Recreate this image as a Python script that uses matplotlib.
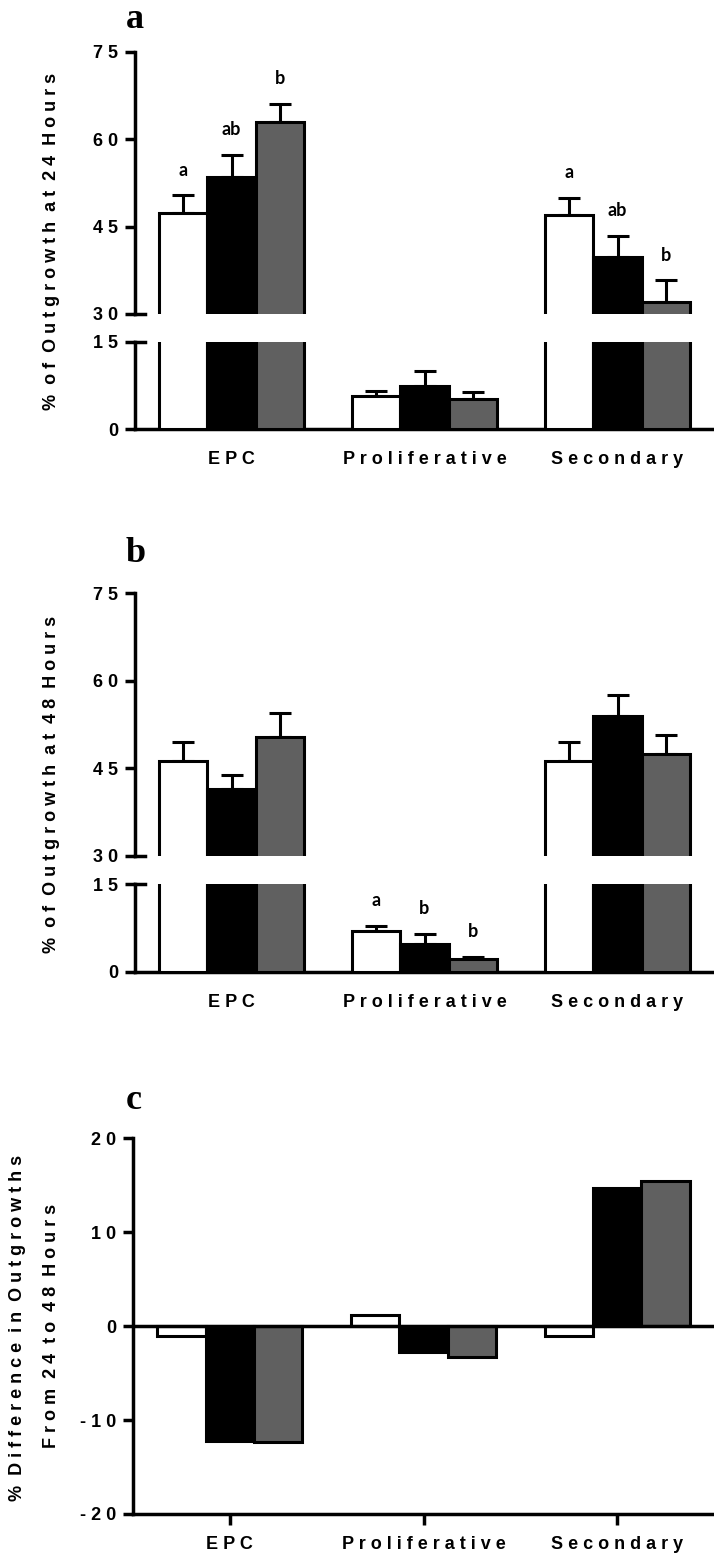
import numpy as np
import matplotlib
matplotlib.use('Agg')
import matplotlib.pyplot as plt

# outgrowth data (mean and SEM) per cell type, three treatments each
cell_types = ['EPC', 'Proliferative', 'Secondary']

mean_24h = {'white': [47.4, 5.7, 47.0],
            'black': [53.6, 7.4, 39.8],
            'gray':  [62.9, 5.2, 32.1]}
sem_24h = {'white': [3.0, 0.8, 3.0],
           'black': [3.7, 2.6, 3.6],
           'gray':  [3.2, 1.2, 3.7]}
letters_24h = {'white': ['a', '', 'a'],
               'black': ['ab', '', 'ab'],
               'gray':  ['b', '', 'b']}

mean_48h = {'white': [46.2, 7.0, 46.2],
            'black': [41.4, 4.8, 54.0],
            'gray':  [50.4, 2.1, 47.4]}
sem_48h = {'white': [3.3, 0.9, 3.3],
           'black': [2.5, 1.7, 3.6],
           'gray':  [4.1, 0.5, 3.3]}
letters_48h = {'white': ['', 'a', ''],
               'black': ['', 'b', ''],
               'gray':  ['', 'b', '']}

diff = {'white': [-1.1, 1.2, -1.0],
        'black': [-12.2, -2.8, 14.7],
        'gray':  [-12.3, -3.3, 15.5]}

bar_colors = {'white': 'white', 'black': 'black', 'gray': '#606060'}
offsets = {'white': -0.25, 'black': 0.0, 'gray': 0.25}
width = 0.25

sans = ['Liberation Sans', 'DejaVu Sans']
plt.rcParams['font.family'] = sans
plt.rcParams['font.weight'] = 'bold'
plt.rcParams['font.size'] = 13


def spaced(s):
    # wide letter spacing like the original figure
    return '  '.join(' '.join(w) for w in s.split())


x = np.arange(len(cell_types))
W, H = 714, 1561


def style_axis(ax):
    for sp in ['top', 'right']:
        ax.spines[sp].set_visible(False)
    for sp in ['left', 'bottom']:
        ax.spines[sp].set_linewidth(2.5)
    ax.tick_params(axis='y', length=7, width=2.5, pad=5, labelsize=13)
    ax.set_xlim(-0.5, 2.5)


def draw_bars(ax, means, sems=None):
    for key in ['white', 'black', 'gray']:
        xs = x + offsets[key]
        ax.bar(xs, means[key], width=width, color=bar_colors[key],
               edgecolor='black', linewidth=2.2, zorder=3)
        if sems is not None:
            ax.errorbar(xs, means[key], yerr=[np.zeros(3), sems[key]], fmt='none',
                        ecolor='black', elinewidth=2.2, capsize=8, capthick=2.2, zorder=2)


def draw_letters(ax, means, sems, letters):
    lo, hi = ax.get_ylim()
    for key in ['white', 'black', 'gray']:
        xs = x + offsets[key]
        for xi, m, e, t in zip(xs, means[key], sems[key], letters[key]):
            if t and lo <= m + e <= hi:
                ax.annotate(t, (xi, m + e), xytext=(0, 12), textcoords='offset points',
                            ha='center', va='bottom', fontsize=13, fontweight='bold',
                            family=['Lato', 'DejaVu Sans'], annotation_clip=False)


def broken_panel(rect_top, rect_bot, means, sems, letters):
    top = fig.add_axes(rect_top)
    bot = fig.add_axes(rect_bot)
    for ax in (top, bot):
        style_axis(ax)
        draw_bars(ax, means, sems)
    top.set_ylim(30, 75)
    top.set_yticks([30, 45, 60, 75])
    top.spines['bottom'].set_visible(False)
    top.set_xticks([])
    bot.set_ylim(0, 15)
    bot.set_yticks([0, 15])
    bot.set_xticks(x)
    bot.set_xticklabels([spaced(c) for c in cell_types])
    bot.tick_params(axis='x', length=0, pad=16, labelsize=13)
    for ax in (top, bot):
        ax.set_yticklabels([spaced(str(int(t))) for t in ax.get_yticks()])
        draw_letters(ax, means, sems, letters)
    # break marks at the ends of the split axis
    top.axhline(30, xmin=0, xmax=0.018, color='black', lw=2.5, clip_on=False)
    bot.axhline(15, xmin=0, xmax=0.018, color='black', lw=2.5, clip_on=False)
    return top, bot


fig = plt.figure(figsize=(W / 100, H / 100), dpi=100)

# panel a: 24 hours
broken_panel([135 / W, 1 - 314 / H, 579 / W, 262 / H],
             [135 / W, 1 - 429 / H, 579 / W, 87 / H],
             mean_24h, sem_24h, letters_24h)
fig.text(52 / W, 1 - 241 / H, spaced('% of Outgrowth at 24 Hours'), rotation=90,
         ha='center', va='center', fontsize=13, fontweight='bold')

# panel b: 48 hours
broken_panel([135 / W, 1 - 856 / H, 579 / W, 262.7 / H],
             [135 / W, 1 - 971.7 / H, 579 / W, 87.4 / H],
             mean_48h, sem_48h, letters_48h)
fig.text(52 / W, 1 - 784 / H, spaced('% of Outgrowth at 48 Hours'), rotation=90,
         ha='center', va='center', fontsize=13, fontweight='bold')

# panel c: difference between 24 and 48 hours
axc = fig.add_axes([133 / W, 1 - 1514 / H, 581 / W, 375.7 / H])
style_axis(axc)
draw_bars(axc, diff)
axc.axhline(0, color='black', lw=2.5, zorder=4)
axc.set_ylim(-20, 20)
axc.set_yticks([-20, -10, 0, 10, 20])
axc.set_yticklabels([spaced(str(t)) for t in [-20, -10, 0, 10, 20]])
axc.set_xticks(x)
axc.set_xticklabels([spaced(c) for c in cell_types])
axc.tick_params(axis='x', length=8, width=2.5, pad=8, labelsize=13)
fig.text(18 / W, 1 - 1328 / H, spaced('% Difference in Outgrowths'), rotation=90,
         ha='center', va='center', fontsize=13, fontweight='bold')
fig.text(52 / W, 1 - 1326 / H, spaced('From 24 to 48 Hours'), rotation=90,
         ha='center', va='center', fontsize=13, fontweight='bold')

# panel letters
for lab, yb in [('a', 28), ('b', 562), ('c', 1109)]:
    fig.text(126 / W, 1 - yb / H, lab, fontsize=26, fontweight='bold',
             family=['Liberation Serif', 'DejaVu Serif'], ha='left', va='baseline')

fig.savefig('out.png', dpi=100)
